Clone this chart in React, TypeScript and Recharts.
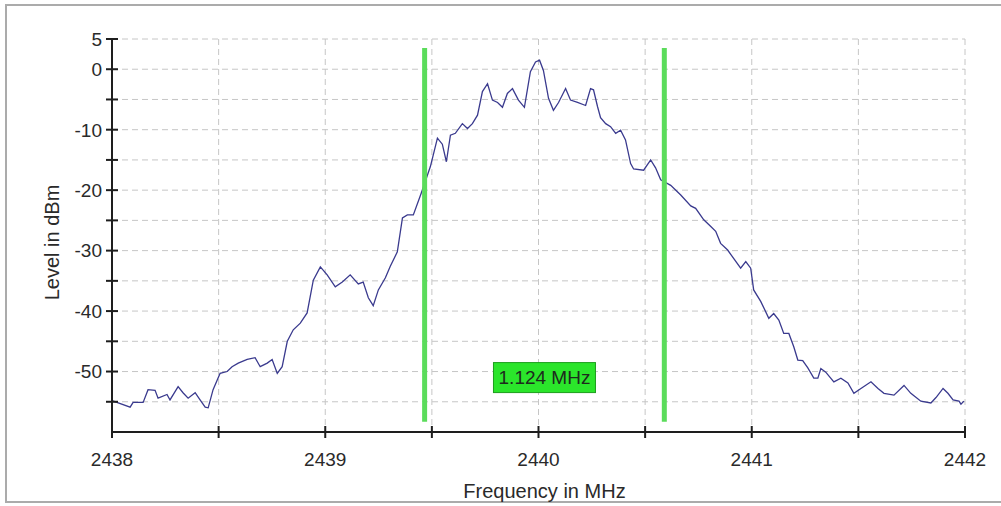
import {
  CartesianGrid,
  Line,
  LineChart,
  ReferenceDot,
  ReferenceLine,
  XAxis,
  YAxis,
} from "recharts";

// Spectrum trace: frequency (MHz) and level (dBm)
const freqs = [
  2438.0, 2438.085, 2438.099, 2438.146, 2438.169, 2438.202, 2438.216, 2438.258,
  2438.272, 2438.31, 2438.333, 2438.357, 2438.39, 2438.413, 2438.437, 2438.451,
  2438.474, 2438.507, 2438.54, 2438.563, 2438.592, 2438.634, 2438.671, 2438.695,
  2438.728, 2438.751, 2438.775, 2438.798, 2438.822, 2438.85, 2438.883, 2438.915,
  2438.944, 2438.977, 2439.009, 2439.047, 2439.08, 2439.117, 2439.155, 2439.178,
  2439.202, 2439.225, 2439.249, 2439.282, 2439.305, 2439.338, 2439.362, 2439.385,
  2439.413, 2439.45, 2439.493, 2439.526, 2439.549, 2439.568, 2439.587, 2439.61,
  2439.643, 2439.667, 2439.69, 2439.714, 2439.737, 2439.761, 2439.784, 2439.808,
  2439.831, 2439.854, 2439.878, 2439.906, 2439.934, 2439.962, 2439.986, 2440.005,
  2440.023, 2440.047, 2440.07, 2440.094, 2440.127, 2440.15, 2440.183, 2440.221,
  2440.244, 2440.258, 2440.277, 2440.291, 2440.315, 2440.338, 2440.362, 2440.385,
  2440.408, 2440.432, 2440.446, 2440.493, 2440.526, 2440.549, 2440.573, 2440.62,
  2440.667, 2440.714, 2440.737, 2440.775, 2440.808, 2440.831, 2440.854, 2440.887,
  2440.915, 2440.948, 2440.972, 2440.995, 2441.009, 2441.042, 2441.08, 2441.103,
  2441.127, 2441.15, 2441.174, 2441.197, 2441.216, 2441.239, 2441.263, 2441.291,
  2441.31, 2441.324, 2441.347, 2441.385, 2441.418, 2441.451, 2441.479, 2441.512,
  2441.559, 2441.592, 2441.62, 2441.667, 2441.714, 2441.746, 2441.793, 2441.84,
  2441.864, 2441.897, 2441.92, 2441.944, 2441.972, 2441.981, 2441.995,
];

const levels = [
  -54.8, -55.9, -55.1, -55.1, -53.0, -53.1, -54.4, -53.8,
  -54.7, -52.5, -53.5, -54.4, -53.5, -54.7, -55.9, -56.0,
  -53.0, -50.3, -50.0, -49.2, -48.6, -48.0, -47.7, -49.2,
  -48.6, -48.0, -50.3, -49.2, -45.0, -43.1, -42.0, -40.3,
  -34.9, -32.7, -34.0, -36.0, -35.2, -34.0, -35.5, -35.2,
  -37.8, -39.1, -36.5, -34.5, -32.6, -30.2, -24.6, -24.1,
  -24.1, -20.5, -16.1, -11.4, -12.4, -15.3, -10.9, -10.6,
  -9.0, -9.8, -9.0, -7.6, -3.7, -2.4, -5.1, -5.5,
  -6.3, -4.0, -3.2, -5.1, -6.3, -0.4, 1.2, 1.5,
  -0.2, -4.8, -6.8, -5.5, -3.2, -5.1, -5.5, -6.0,
  -3.2, -3.4, -6.2, -8.0, -9.0, -9.5, -10.6, -10.1,
  -11.7, -15.6, -16.5, -16.7, -15.0, -16.3, -18.3, -19.2,
  -20.8, -22.6, -23.0, -24.9, -26.0, -26.8, -28.8, -29.9,
  -31.3, -32.9, -31.8, -32.9, -36.5, -38.4, -41.2, -40.4,
  -41.5, -43.7, -43.7, -45.9, -48.1, -48.2, -49.4, -51.1,
  -51.1, -49.5, -50.1, -51.7, -51.1, -51.9, -53.6, -52.8,
  -51.7, -52.8, -53.6, -53.9, -52.3, -53.6, -54.9, -55.2,
  -54.3, -52.8, -53.6, -54.7, -54.9, -55.4, -54.9,
];

const freqTicks = [2438, 2438.5, 2439, 2439.5, 2440, 2440.5, 2441, 2441.5, 2442];
const freqLabels = [2438, 2439, 2440, 2441, 2442];
const levelTicks = [5, 0, -5, -10, -15, -20, -25, -30, -35, -40, -45, -50, -55];
const levelLabels = [5, 0, -10, -20, -30, -40, -50];

// bandwidth markers (MHz) and their vertical extent (dBm)
const markerFreqs = [2439.466, 2440.59];
const markerTop = 3.5;
const markerBottom = -58.3;
const bandwidthText = "1.124 MHz";
const bandwidthLevel = -51;

const data = freqs.map((freq, i) => ({ freq, level: levels[i] }));

const FONT = '"Liberation Sans", Arial, sans-serif';
const AXIS = "#1e1e1e";
const TEXT = "#2a2a2a";

function LevelTick({ x, y, payload }: any) {
  const show = levelLabels.includes(payload.value);
  return (
    <g>
      <line x1={x - 6} x2={x + 6} y1={y} y2={y} stroke={AXIS} strokeWidth={2} />
      {show && (
        <text
          x={x - 10}
          y={y}
          dy="0.36em"
          textAnchor="end"
          fontSize={19}
          fontFamily={FONT}
          fill={TEXT}
        >
          {payload.value}
        </text>
      )}
    </g>
  );
}

function FreqTick({ x, y, payload }: any) {
  const show = freqLabels.includes(payload.value);
  return (
    <g>
      <line x1={x} x2={x} y1={y - 6} y2={y + 6} stroke={AXIS} strokeWidth={2} />
      {show && (
        <text
          x={x}
          y={y + 34}
          textAnchor="middle"
          fontSize={19}
          fontFamily={FONT}
          fill={TEXT}
        >
          {payload.value}
        </text>
      )}
    </g>
  );
}

function BandwidthBox({ cx, cy }: any) {
  return (
    <g>
      <rect
        x={cx - 51}
        y={cy - 15}
        width={102}
        height={30}
        fill="#2be52b"
        stroke="#1c9e1c"
        strokeWidth={1}
      />
      <text
        x={cx}
        y={cy}
        dy="0.36em"
        textAnchor="middle"
        fontSize={19}
        fontFamily={FONT}
        fill="#1d2a1d"
      >
        {bandwidthText}
      </text>
    </g>
  );
}

export default function App() {
  return (
    <div
      style={{
        position: "absolute",
        left: 0,
        top: 0,
        width: 1001,
        height: 506,
        overflow: "hidden",
        background: "#fff",
      }}
    >
      <div
        style={{
          position: "absolute",
          left: 5,
          top: 4,
          width: 1010,
          height: 495,
          border: "2px solid #ababab",
        }}
      />
      <div style={{ position: "absolute", left: 0, top: 0 }}>
        <LineChart
          width={1001}
          height={506}
          data={data}
          margin={{ top: 39, right: 36, left: 52, bottom: 34 }}
        >
          <CartesianGrid stroke="#c6c6c6" strokeDasharray="6 4" />
          <XAxis
            dataKey="freq"
            type="number"
            domain={[2438, 2442]}
            ticks={freqTicks}
            interval={0}
            tick={FreqTick}
            tickLine={false}
            tickSize={0}
            tickMargin={0}
            height={40}
            axisLine={{ stroke: AXIS, strokeWidth: 2 }}
            label={{
              content: ({ viewBox }: any) => (
                <text
                  x={viewBox.x + viewBox.width / 2 + 6}
                  y={viewBox.y + 66}
                  textAnchor="middle"
                  fontSize={20}
                  fontFamily={FONT}
                  fill={TEXT}
                >
                  Frequency in MHz
                </text>
              ),
            }}
          />
          <YAxis
            type="number"
            domain={[-60, 5]}
            ticks={levelTicks}
            interval={0}
            tick={LevelTick}
            tickLine={false}
            tickSize={0}
            tickMargin={0}
            width={60}
            axisLine={{ stroke: AXIS, strokeWidth: 2 }}
            label={{
              content: ({ viewBox }: any) => {
                const cx = viewBox.x;
                const cy = viewBox.y + viewBox.height / 2 + 7;
                return (
                  <text
                    x={cx}
                    y={cy}
                    dy="0.36em"
                    textAnchor="middle"
                    transform={`rotate(-90 ${cx} ${cy})`}
                    fontSize={20}
                    fontFamily={FONT}
                    fill={TEXT}
                  >
                    Level in dBm
                  </text>
                );
              },
            }}
          />
          <Line
            type="linear"
            dataKey="level"
            stroke="#3a3a8e"
            strokeWidth={1.3}
            dot={false}
            isAnimationActive={false}
          />
          {markerFreqs.map((f) => (
            <ReferenceLine
              key={f}
              segment={[
                { x: f, y: markerTop },
                { x: f, y: markerBottom },
              ]}
              stroke="#5bdc5b"
              strokeWidth={5}
            />
          ))}
          <ReferenceDot
            x={(markerFreqs[0] + markerFreqs[1]) / 2}
            y={bandwidthLevel}
            shape={BandwidthBox}
          />
        </LineChart>
      </div>
    </div>
  );
}
